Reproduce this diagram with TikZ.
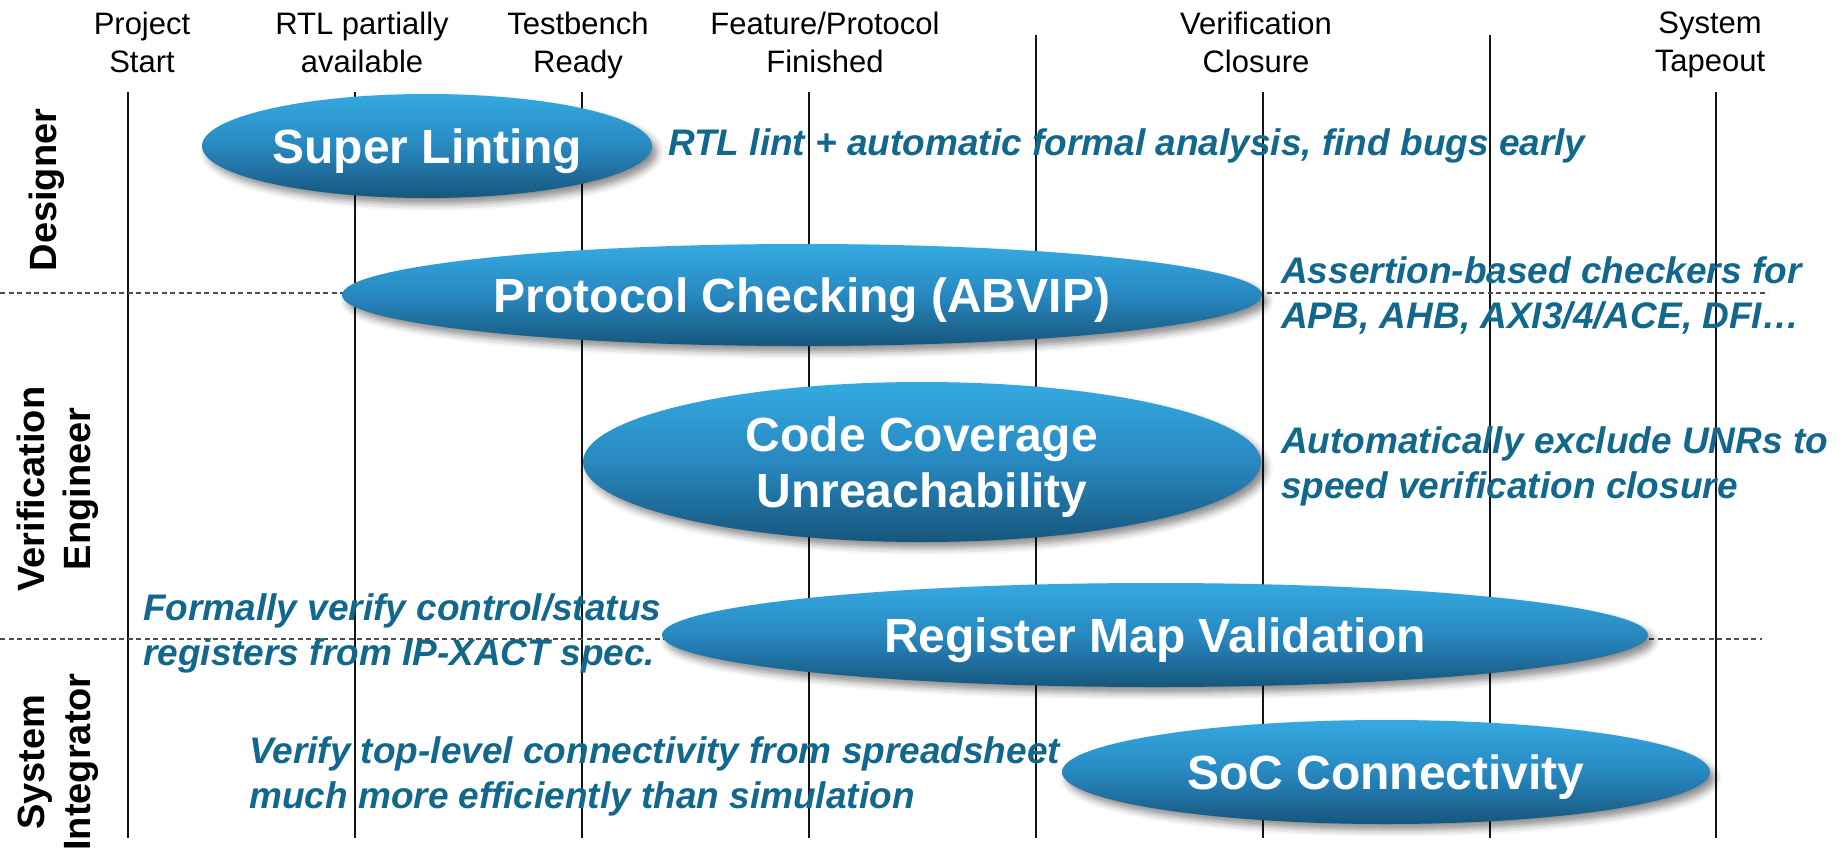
\documentclass[tikz,border=0pt]{standalone}
\usepackage{fontspec}
\setmainfont{Liberation Sans}
\usetikzlibrary{shapes.geometric,shadows.blur}
\definecolor{ovaltop}{RGB}{52,170,225}
\definecolor{ovalmid}{RGB}{40,136,192}
\definecolor{ovalbot}{RGB}{22,86,124}
\definecolor{notecol}{RGB}{18,104,140}
\definecolor{gridcol}{RGB}{20,20,20}
\tikzset{
  milestone/.style={font=\fontsize{31}{38}\selectfont, align=center, inner sep=0pt},
  role/.style={font=\fontsize{38}{46}\selectfont\bfseries, align=center, rotate=90, inner sep=0pt},
  task/.style={ellipse, inner sep=0pt, text depth=0pt, top color=ovaltop, bottom color=ovalbot, middle color=ovalmid,
    text=white, font=\fontsize{48}{56}\selectfont\bfseries, align=center,
    blur shadow={shadow xshift=5pt, shadow yshift=-6pt, shadow blur radius=7pt, shadow opacity=45}},
  note/.style={font=\fontsize{37}{45}\selectfont\bfseries\itshape, text=notecol, align=left, inner sep=0pt, anchor=north west},
  gridline/.style={line width=1.4pt, draw=gridcol},
  lanesep/.style={line width=1.3pt, draw=black!70, dash pattern=on 5pt off 3.5pt},
}
\begin{document}
\begin{tikzpicture}[x=1pt,y=-1pt]
\useasboundingbox (0,0) rectangle (1846,852);

% milestone grid lines
\foreach \n/\x/\t in {1/128/92, 2/355/92, 3/582/92, 4/809/92, 5/1036/35, 6/1263/92, 7/1490/35, 8/1716/92} {
  \coordinate (g\n top) at (\x,\t);
  \coordinate (g\n bot) at (\x,838);
  \draw[gridline] (g\n top) -- (g\n bot);
}

% lane separators
\coordinate (sepA west) at (0,293);
\coordinate (sepA east) at (1768,293);
\coordinate (sepB west) at (0,639);
\coordinate (sepB east) at (1762,639);
\draw[lanesep] (sepA west) -- (sepA east);
\draw[lanesep] (sepB west) -- (sepB east);

% milestones
\node[milestone] (ms1) at (142,42) {Project\\Start};
\node[milestone] (ms2) at (362,42) {RTL partially\\available};
\node[milestone] (ms3) at (578,45) {Testbench\\Ready};
\node[milestone] (ms4) at (825,42) {Feature/Protocol\\Finished};
\node[milestone] (ms5) at (1256,42) {Verification\\Closure};
\node[milestone] (ms6) at (1710,45) {System\\Tapeout};

% roles
\node[role] (designer) at (47,190) {Designer};
\node[role] (verifeng) at (58,489) {Verification\\Engineer};
\node[role] (sysint) at (58,762) {System\\Integrator};

% flows
\node[task, minimum width=450pt, minimum height=104pt] (lint) at (427,146) {Super Linting};
\node[task, minimum width=920pt, minimum height=102pt] (abvip) at (802,295) {Protocol Checking (ABVIP)};
\node[task, minimum width=678pt, minimum height=160pt] (unr) at (922,462) {Code Coverage\\Unreachability};
\node[task, minimum width=986pt, minimum height=104pt] (regmap) at (1155,635) {Register Map Validation};
\node[task, minimum width=648pt, minimum height=104pt] (soc) at (1386,772) {SoC Connectivity};

% descriptions
\node[note] (lintnote) at (668,128) {RTL lint + automatic formal analysis, find bugs early};
\node[note] (abvipnote) at (1281,256) {Assertion-based checkers for\\APB, AHB, AXI3/4/ACE, DFI…};
\node[note] (unrnote) at (1281,426) {Automatically exclude UNRs to\\speed verification closure};
\node[note] (regnote) at (143,593) {Formally verify control/status\\registers from IP-XACT spec.};
\node[note] (socnote) at (249,736) {Verify top-level connectivity from spreadsheet\\much more efficiently than simulation};
\end{tikzpicture}
\end{document}
